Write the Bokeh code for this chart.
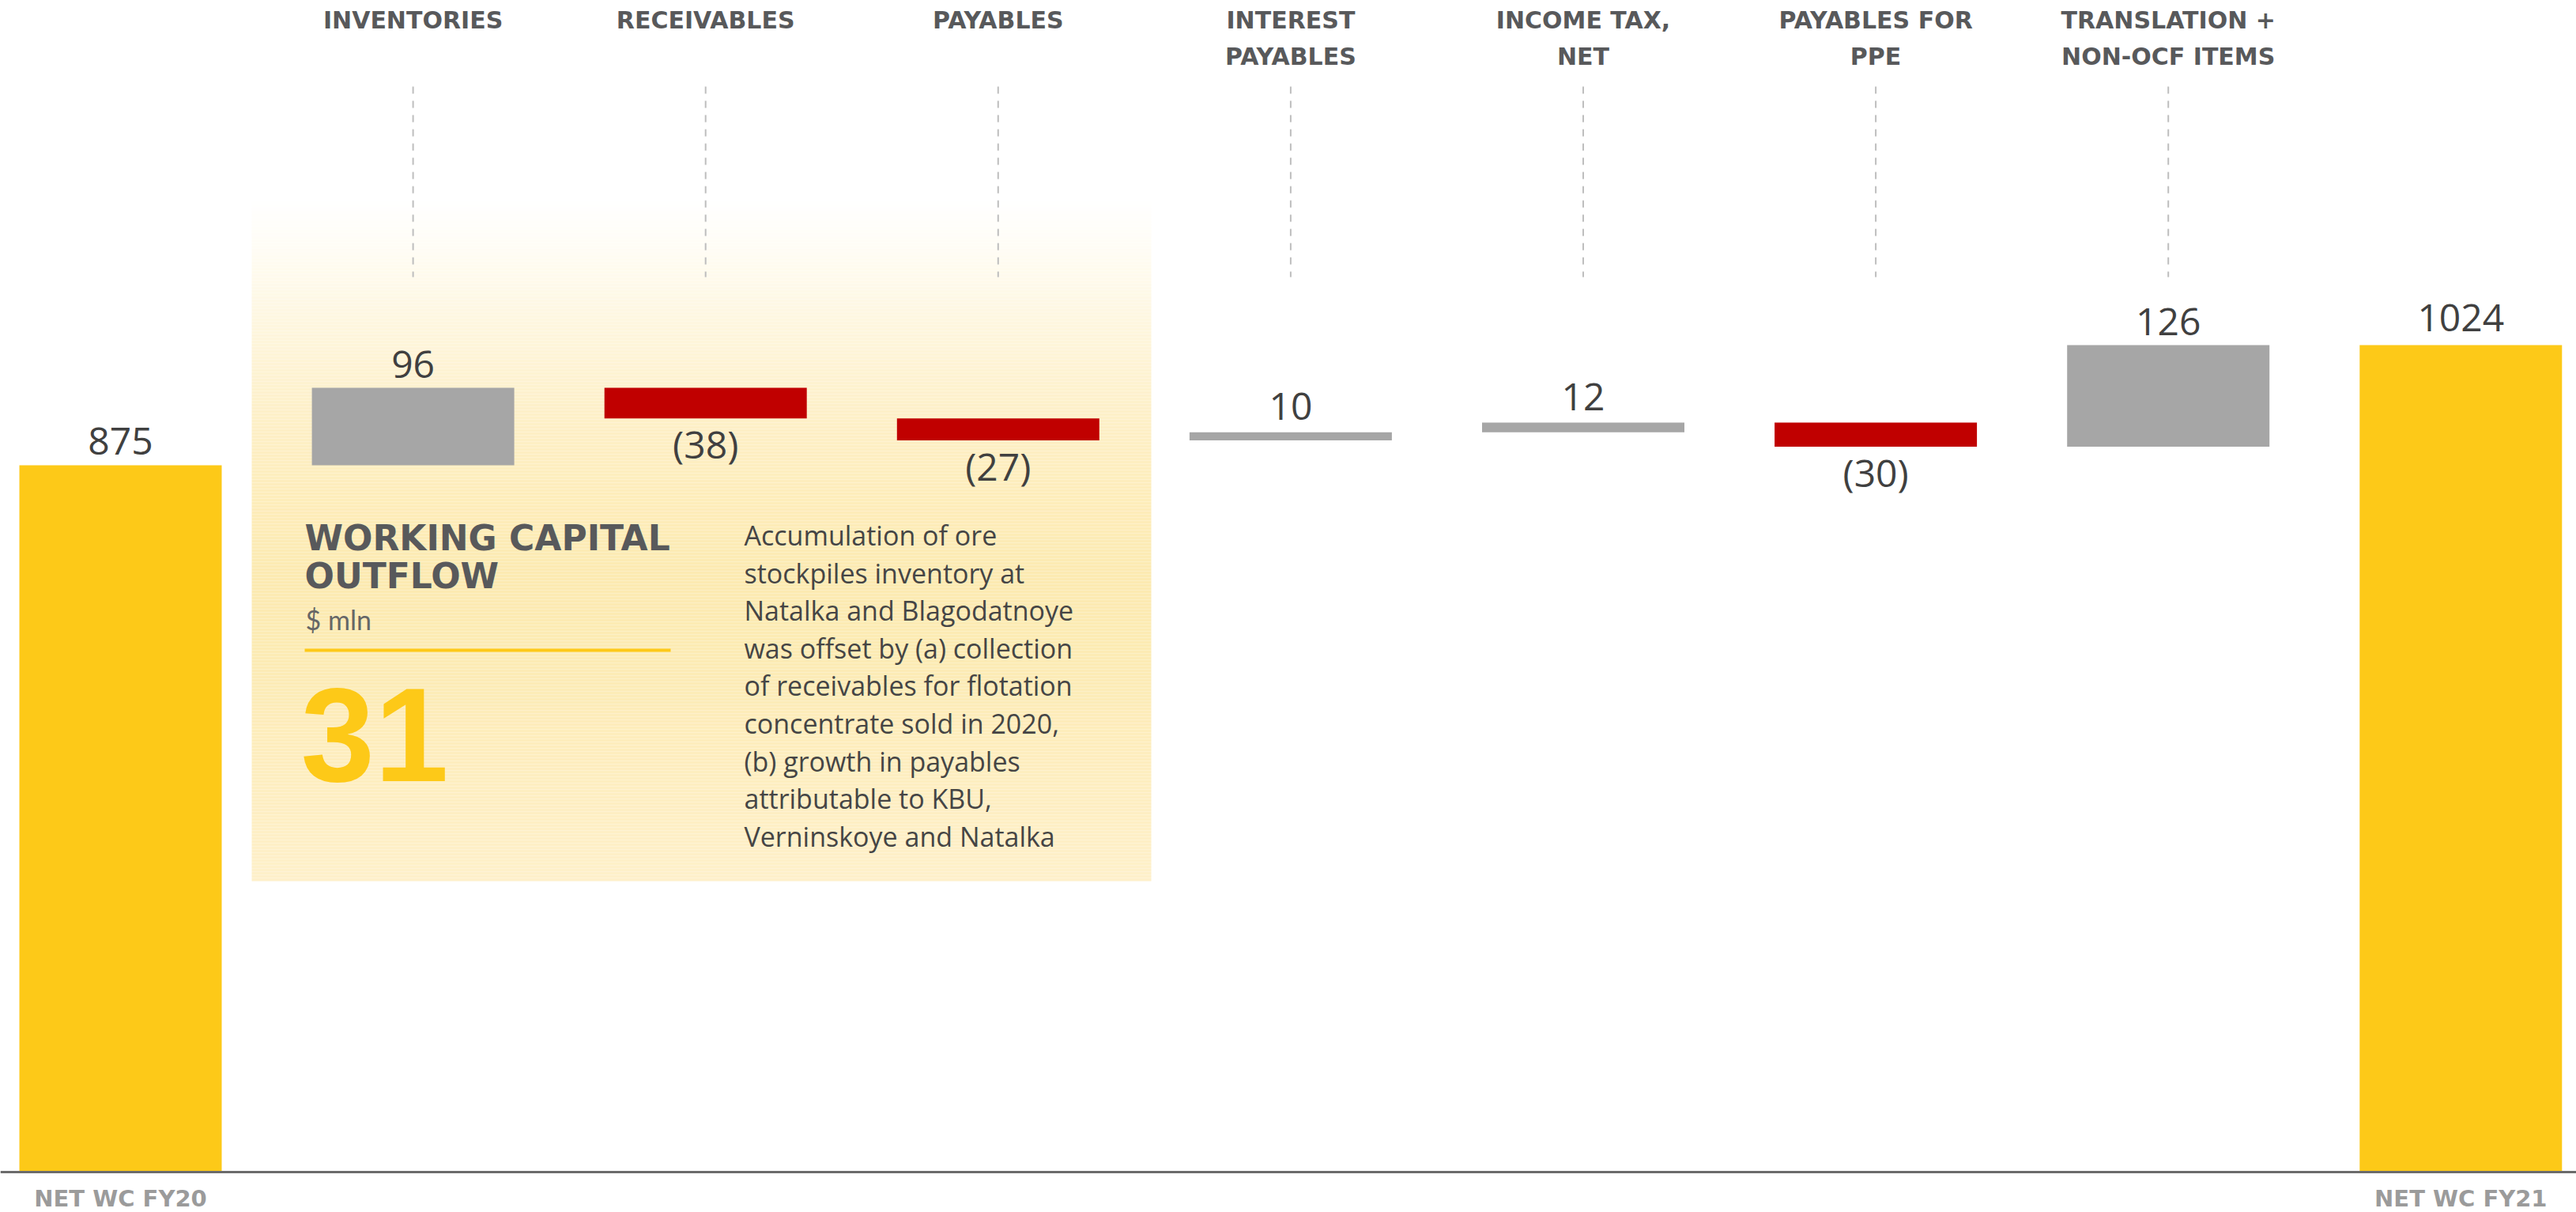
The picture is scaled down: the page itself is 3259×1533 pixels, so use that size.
from bokeh.plotting import figure
from bokeh.models import Range1d, ColumnDataSource
from bokeh.core.properties import value
from bokeh.embed import file_html
from bokeh.resources import INLINE

# ---------------- data ----------------
start_label = "NET WC FY20"
end_label = "NET WC FY21"
start_value = 875
end_value = 1024
step_labels = [["INVENTORIES"], ["RECEIVABLES"], ["PAYABLES"],
               ["INTEREST", "PAYABLES"], ["INCOME TAX,", "NET"],
               ["PAYABLES FOR", "PPE"], ["TRANSLATION +", "NON-OCF ITEMS"]]
step_values = [96, -38, -27, 10, 12, -30, 126]
callout_title = ["WORKING CAPITAL", "OUTFLOW"]
callout_unit = "$ mln"
callout_value = 31
callout_text = ["Accumulation of ore",
                "stockpiles inventory at",
                "Natalka and Blagodatnoye",
                "was offset by (a) collection",
                "of receivables for flotation",
                "concentrate sold in 2020,",
                "(b) growth in payables",
                "attributable to KBU,",
                "Verninskoye and Natalka"]

# ---------------- layout / style ----------------
W, H = 3259, 1533
PX_PER_UNIT = 1.0216
BASE_PX = 1482
SLOT_PX = 370.1
FIRST_PX = 152
BAR_W = 256 / SLOT_PX

XR0 = -FIRST_PX / SLOT_PX
XR1 = (W - FIRST_PX) / SLOT_PX
YR1 = BASE_PX / PX_PER_UNIT
YR0 = -(H - BASE_PX) / PX_PER_UNIT

BL = 0.35  # baseline correction (fraction of font size)


def X(px):
    return (px - FIRST_PX) / SLOT_PX


def Y(py):
    return (BASE_PX - py) / PX_PER_UNIT


def TY(py, fs, c=BL):
    # place alphabetic baseline at screen row py
    return Y(py - c * fs)


def DY(dpx):
    return dpx / PX_PER_UNIT


YELLOW = "#FDC918"
GRAY = "#A6A6A6"
RED = "#C00000"
DARK = "#404040"
TITLE = "#58595B"

p = figure(width=W, height=H, x_range=Range1d(XR0, XR1), y_range=Range1d(YR0, YR1),
           output_backend="svg", toolbar_location=None, min_border=0,
           x_axis_location=None, y_axis_location=None,
           outline_line_color=None, background_fill_color="white",
           border_fill_color="white")
p.grid.visible = False

# gradient call-out panel (decoration)
panel_stops = [(250, (255, 255, 255)), (306, (255, 253, 246)), (413, (254, 246, 222)),
               (519, (253, 240, 201)), (625, (253, 237, 187)), (732, (252, 234, 177)),
               (838, (252, 235, 180)), (945, (253, 237, 189)), (1114, (254, 240, 202))]


def panel_color(py):
    for (a, ca), (b, cb) in zip(panel_stops[:-1], panel_stops[1:]):
        if a <= py <= b:
            t = (py - a) / (b - a)
            c = [round(ca[k] + (cb[k] - ca[k]) * t) for k in range(3)]
            return "#%02x%02x%02x" % tuple(c)
    return "#%02x%02x%02x" % panel_stops[-1][1]


tops, bots, cols = [], [], []
py = 250
while py < 1114:
    nxt = min(py + 4, 1114)
    tops.append(Y(py))
    bots.append(Y(nxt))
    cols.append(panel_color((py + nxt) / 2))
    py = nxt
p.quad(left=X(318), right=X(1456), top=tops, bottom=bots, fill_color=cols, line_color=None)

# ---------------- waterfall bars ----------------
n = len(step_values)
xs, b_bot, b_top, b_col = [], [], [], []
xs.append(0); b_bot.append(0); b_top.append(start_value); b_col.append(YELLOW)
level = start_value
for i, v in enumerate(step_values):
    xs.append(i + 1)
    lo, hi = (level, level + v) if v >= 0 else (level + v, level)
    b_bot.append(lo); b_top.append(hi)
    b_col.append(GRAY if v >= 0 else RED)
    level += v
xs.append(n + 1); b_bot.append(0); b_top.append(end_value); b_col.append(YELLOW)

src = ColumnDataSource(dict(x=xs, bottom=b_bot, top=b_top, color=b_col))
p.vbar(x="x", width=BAR_W, bottom="bottom", top="top", fill_color="color",
       line_color=None, source=src)

# baseline
p.segment(x0=[XR0], x1=[XR1], y0=[0], y1=[0], line_color="#6b6b6b", line_width=3)

# value labels
VFS = 48
up = DY(13 + BL * VFS)
down = DY(49 - BL * VFS)
lab_x, lab_y, lab_t = [], [], []
lab_x.append(0); lab_y.append(start_value + DY(14 + BL * VFS)); lab_t.append(str(start_value))
level = start_value
for i, v in enumerate(step_values):
    lab_x.append(i + 1)
    if v >= 0:
        lab_y.append(level + v + up + DY(3 if abs(v) < 20 else 0)); lab_t.append(str(v))
    else:
        lab_y.append(level + v - down); lab_t.append("(%d)" % (-v))
    level += v
lab_x.append(n + 1); lab_y.append(end_value + DY(18 + BL * VFS)); lab_t.append(str(end_value))
p.text(x=lab_x, y=lab_y, text=lab_t, text_font=value("Open Sans"), text_font_size="%dpx" % VFS,
       text_color=DARK, text_align="center", text_baseline="alphabetic")

# dashed guides + step headers
gx = list(range(1, n + 1))
p.segment(x0=gx, x1=gx, y0=[Y(109)] * n, y1=[Y(350)] * n, line_color="#BEBEBE",
          line_width=2, line_dash="9 9")
HFS = 30
hx, hy, ht = [], [], []
for i, lines in enumerate(step_labels):
    for j, t in enumerate(lines):
        hx.append(i + 1); hy.append(TY(36 + 46 * j, HFS, 0.38)); ht.append(t)
p.text(x=hx, y=hy, text=ht, text_font=value("DejaVu Sans"), text_font_style="bold",
       text_font_size="%dpx" % HFS, text_color=TITLE, text_align="center",
       text_baseline="alphabetic")

# bottom labels
p.text(x=[0, n + 1], y=[TY(1527, 29, 0.38)] * 2, text=[start_label, end_label],
       text_font=value("DejaVu Sans"), text_font_style="bold", text_font_size="29px",
       text_color="#9B9B9B", text_align="center", text_baseline="alphabetic")

# call-out
p.text(x=[X(385)] * 2, y=[TY(697, 44, 0.38), TY(745, 44, 0.38)], text=callout_title,
       text_font=value("DejaVu Sans"), text_font_style="bold", text_font_size="44px",
       text_color=TITLE, text_align="left", text_baseline="alphabetic")
p.text(x=[X(386)], y=[TY(795, 34)], text=[callout_unit], text_font=value("Lato"),
       text_font_size="34px", text_color="#666666", text_align="left",
       text_baseline="alphabetic")
p.segment(x0=[X(385)], x1=[X(848)], y0=[Y(822)], y1=[Y(822)], line_color=YELLOW,
          line_width=4)
p.text(x=[X(380)], y=[TY(988, 168)], text=[str(callout_value)],
       text_font=value("Liberation Sans"), text_font_style="bold", text_font_size="168px",
       text_color=YELLOW, text_align="left", text_baseline="alphabetic")
p.text(x=[X(941)] * len(callout_text),
       y=[TY(687 + 47.6 * k, 34, 0.31) for k in range(len(callout_text))],
       text=callout_text, text_font=value("Open Sans"), text_font_size="34px",
       text_color="#454545", text_align="left", text_baseline="alphabetic")

open("out.html", "w").write(file_html(p, INLINE))
